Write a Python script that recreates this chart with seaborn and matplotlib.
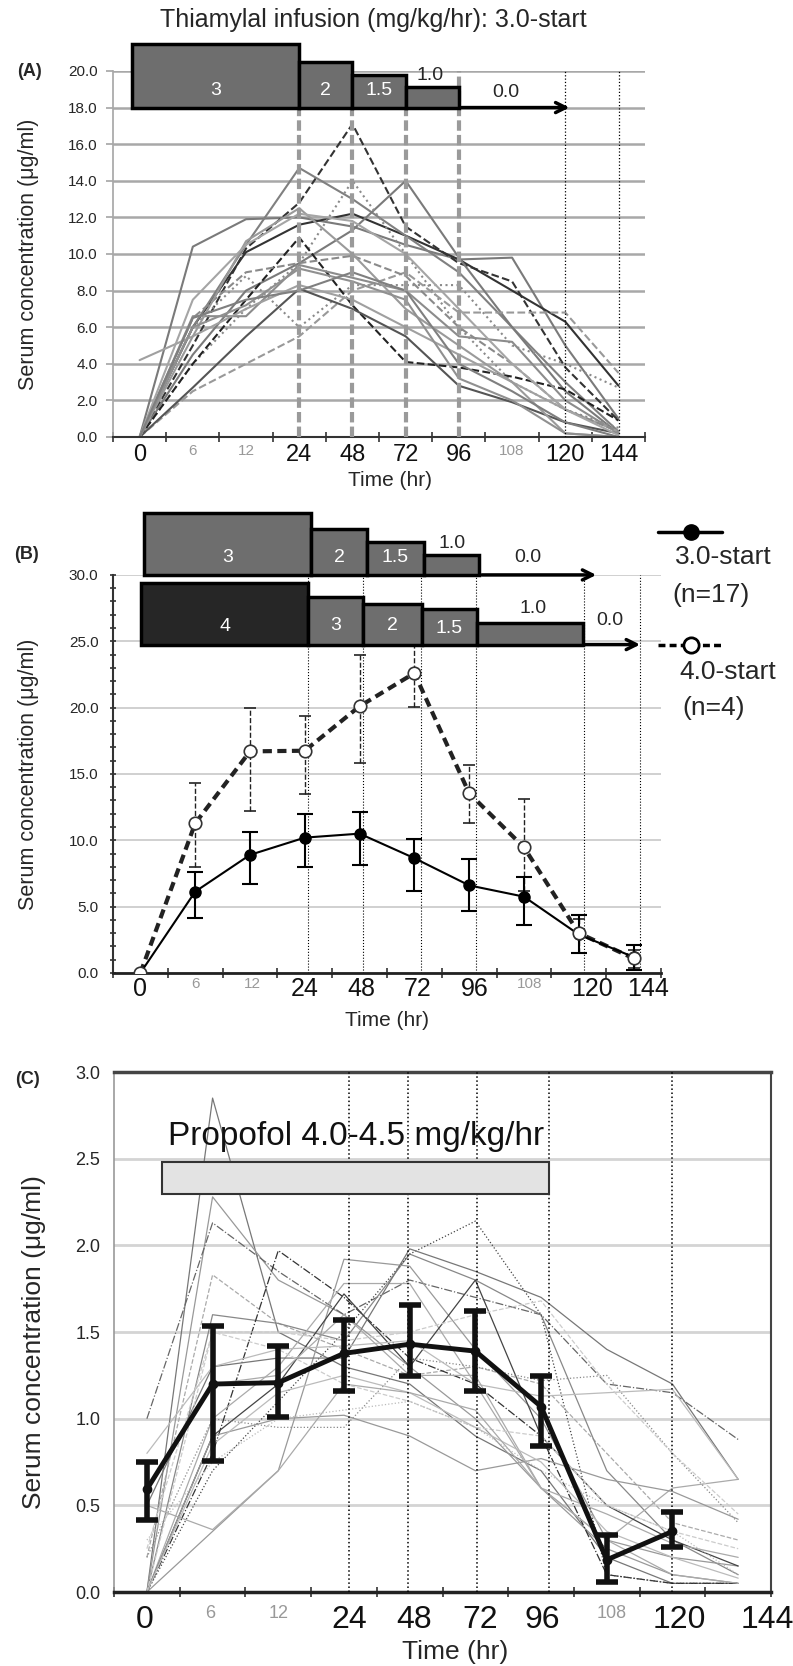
import numpy as np
import pandas as pd
import matplotlib
matplotlib.use('Agg')
import matplotlib.pyplot as plt
import seaborn as sns
from matplotlib.patches import Rectangle
from matplotlib.lines import Line2D

# x axis: sampling times, drawn as equally spaced categories
HOURS = ['0', '6', '12', '24', '48', '72', '96', '108', '120', '144']
MINOR_HOURS = {'6', '12', '108'}
POS = list(range(len(HOURS)))

# (A) thiamylal, individual patients (3.0-start)
A_LINES = [
    [0, 10.4, 11.9, 12.0, 11.5, 10.5, 9.7, 9.8, 5.0, 1.0],
    [0, 6.0, 10.1, 11.6, 12.2, 11.0, 9.7, 8.0, 6.3, 2.8],
    [0, 5.0, 10.3, 12.8, 17.1, 11.5, 9.5, 8.5, 3.8, 0.9],
    [0, 6.0, 10.5, 14.7, 13.0, 11.0, 9.0, 6.0, 3.0, 0.3],
    [0, 4.5, 8.0, 9.5, 11.3, 14.0, 9.8, 6.0, 2.5, 0.2],
    [0, 6.0, 8.8, 6.0, 8.3, 8.3, 8.3, 5.0, 4.0, 2.7],
    [0, 4.0, 7.0, 9.5, 14.0, 10.0, 6.0, 3.0, 1.5, 0.5],
    [0, 2.5, 4.0, 5.5, 8.0, 9.0, 6.8, 6.8, 6.8, 3.5],
    [0, 4.0, 7.5, 10.9, 7.2, 4.1, 3.8, 3.3, 2.6, 0.9],
    [0, 2.7, 5.5, 8.1, 7.0, 5.5, 2.8, 1.9, 0.8, 0.2],
    [0, 6.6, 6.6, 9.4, 8.7, 8.0, 5.5, 5.2, 2.0, 0.2],
    [4.2, 5.5, 7.0, 8.3, 7.5, 6.0, 4.5, 3.0, 1.5, 0.3],
    [0, 6.5, 9.0, 9.5, 9.9, 8.8, 6.0, 4.0, 1.5, 0.3],
    [0, 5.5, 10.7, 12.5, 10.0, 7.0, 5.0, 3.0, 0.2, 0.0],
    [0, 6.0, 7.2, 9.2, 8.5, 7.5, 3.2, 2.0, 0.2, 0.0],
    [0, 7.5, 10.5, 12.2, 11.8, 10.0, 7.0, 4.0, 1.5, 0.1],
    [0, 6.5, 7.5, 8.0, 9.0, 8.0, 4.0, 2.5, 0.8, 0.0],
]
A_STYLES = [
    ('#7a7a7a', '-'), ('#333333', '-'), ('#333333', '--'), ('#808080', '-'),
    ('#7a7a7a', '-'), ('#8a8a8a', ':'), ('#8a8a8a', ':'), ('#999999', '--'),
    ('#222222', '--'), ('#555555', '-'), ('#8c8c8c', '-'), ('#a0a0a0', '-'),
    ('#8a8a8a', '--'), ('#9a9a9a', '-'), ('#909090', '-'), ('#a5a5a5', '-'),
    ('#7f7f7f', '-'),
]

# (B) mean +/- SD
B30_MEAN = [0, 6.13, 8.9, 10.2, 10.5, 8.65, 6.6, 5.75, 2.9, 1.2]
B30_UP = [0, 7.63, 10.65, 12.0, 12.1, 10.1, 8.6, 7.26, 4.37, 2.1]
B30_LO = [0, 4.17, 6.7, 8.0, 8.14, 6.2, 4.7, 3.6, 1.5, 0.2]
B40_MEAN = [0, 11.28, 16.7, 16.75, 20.1, 22.6, 13.54, 9.47, 3.0, 1.1]
B40_UP = [0, 14.34, 19.97, 19.37, 24.0, 24.66, 15.67, 13.1, 4.1, 1.7]
B40_LO = [0, 7.97, 12.23, 13.47, 15.8, 20.07, 11.33, 6.2, 1.5, 0.4]

# (C) propofol, individual patients and mean +/- SD
C_LINES = [
    [0, 2.85, 1.5, 1.3, 1.2, 0.9, 0.7, 0.2, 0.05, 0.05],
    [0, 2.28, 1.8, 1.6, 1.3, 1.0, 0.6, 0.25, 0.1, 0.05],
    [1.0, 2.13, 1.85, 1.6, 1.8, 1.7, 1.6, 1.2, 1.15, 0.88],
    [0.2, 1.83, 1.55, 1.4, 1.25, 1.3, 1.2, 0.8, 0.4, 0.3],
    [0, 1.6, 1.55, 1.45, 1.95, 1.8, 1.6, 0.7, 0.3, 0.1],
    [0, 0.8, 1.97, 1.7, 1.35, 1.2, 0.9, 0.1, 0.05, 0.05],
    [0, 0.35, 0.7, 1.92, 1.88, 1.4, 1.0, 0.3, 0.2, 0.15],
    [0, 1.0, 1.3, 1.78, 1.78, 1.2, 0.6, 0.3, 0.6, 0.65],
    [0, 0.9, 1.2, 1.72, 1.3, 1.8, 0.9, 0.5, 0.3, 0.15],
    [0, 0.7, 1.1, 1.5, 1.95, 2.14, 1.6, 0.1, 0.05, 0.05],
    [0.5, 1.3, 1.35, 1.35, 1.98, 1.85, 1.7, 1.4, 1.2, 0.65],
    [0.2, 1.0, 0.95, 0.95, 1.35, 1.3, 1.22, 1.25, 0.8, 0.4],
    [0.8, 1.3, 1.4, 1.42, 1.45, 1.2, 1.13, 1.15, 1.17, 0.65],
    [0, 0.9, 1.0, 1.02, 0.9, 0.7, 0.77, 0.65, 0.58, 0.42],
    [0.6, 1.2, 1.25, 1.6, 1.25, 1.25, 0.6, 0.3, 0.1, 0.05],
    [0, 1.5, 1.4, 1.2, 1.1, 0.95, 0.9, 0.5, 0.35, 0.25],
    [0, 0.85, 1.15, 1.25, 1.15, 0.95, 0.75, 0.35, 0.2, 0.08],
    [0.5, 0.36, 0.7, 1.2, 1.15, 1.05, 0.6, 0.45, 0.28, 0.2],
    [0.3, 0.75, 1.0, 1.05, 1.1, 0.95, 0.7, 0.5, 0.35, 0.1],
    [0.25, 1.5, 1.5, 1.45, 1.5, 1.6, 1.68, 1.2, 0.8, 0.45],
]
C_COLORS = ['#777777', '#999999', '#666666', '#aaaaaa', '#888888', '#333333',
            '#999999', '#aaaaaa', '#444444', '#444444', '#777777', '#888888',
            '#bbbbbb', '#999999', '#aaaaaa', '#cccccc', '#bbbbbb', '#aaaaaa',
            '#bbbbbb', '#cccccc']
C_DASH = ['-', '-', '-.', '--', '-', '-.', '-', '-', '-', ':',
          '-', ':', '-', '-', '-', '--', '-', '-', ':', '--']
C_MEAN = [0.593, 1.2, 1.208, 1.377, 1.43, 1.39, 1.07, 0.186, 0.35]
C_UP = [0.753, 1.535, 1.42, 1.57, 1.656, 1.62, 1.248, 0.33, 0.459]
C_LO = [0.417, 0.757, 1.008, 1.16, 1.247, 1.16, 0.843, 0.06, 0.26]

sns.set_theme(style='white')
plt.rcParams['font.family'] = ['Liberation Sans', 'DejaVu Sans']

fig = plt.figure(figsize=(7.93, 16.66), dpi=100)
axA = fig.add_axes([0.1425, 0.7377, 0.671, 0.2197])
axB = fig.add_axes([0.1425, 0.4160, 0.691, 0.2389])
axC = fig.add_axes([0.1438, 0.0444, 0.8285, 0.3121])


def style_x(ax, label_pos, big, small, pad):
    ax.set_xlim(-0.5, 9.5)
    ax.set_xticks(label_pos)
    ax.set_xticklabels(HOURS)
    for lab, h in zip(ax.get_xticklabels(), HOURS):
        if h in MINOR_HOURS:
            lab.set_fontsize(small)
            lab.set_color('#999999')
        else:
            lab.set_fontsize(big)
            lab.set_color('#111111')
    ax.tick_params(axis='x', which='major', length=0, pad=pad)
    ax.set_xticks(np.arange(-0.5, 10, 1), minor=True)
    ax.tick_params(axis='x', which='minor', bottom=True, direction='inout',
                   length=7, width=1.2, color='#333333')


def box(ax, x0, x1, y0, y1, fc, label=None, size=14, ly=None):
    ax.add_patch(Rectangle((x0, y0), x1 - x0, y1 - y0, facecolor=fc,
                           edgecolor='black', lw=2.5, clip_on=False, zorder=6))
    if label:
        ax.text((x0 + x1) / 2, ly, label, color='white', fontsize=size,
                ha='center', va='center', zorder=7)


# ---------------- (A)
ax = axA
for vals, (col, ls) in zip(A_LINES, A_STYLES):
    sns.lineplot(x=POS, y=vals, ax=ax, color=col, linestyle=ls, lw=1.5, zorder=2)
ax.set_ylim(0, 20)
ax.set_yticks(np.arange(0, 21, 2))
ax.set_yticklabels([f'{v:.1f}' for v in np.arange(0, 21, 2)], fontsize=11)
ax.yaxis.grid(True, color='#a8a8a8', lw=1.8)
ax.set_axisbelow(True)
ax.tick_params(axis='y', length=5, color='#a8a8a8', pad=6, left=True)
for s in ['top', 'right']:
    ax.spines[s].set_visible(False)
ax.spines['left'].set_color('#a8a8a8')
ax.spines['bottom'].set_color('#333333')
ax.spines['bottom'].set_linewidth(1.5)
style_x(ax, POS, 17, 11, 5)
for p in [3, 4, 5]:
    ax.plot([p, p], [0, 18], color='#9a9a9a', lw=3, ls=(0, (2.5, 1)), zorder=3)
ax.plot([6, 6], [0, 20], color='#9a9a9a', lw=3, ls=(0, (2.5, 1)), zorder=3)
for p in [8, 9]:
    ax.plot([p, p], [0, 20], color='black', lw=0.9, ls=':', zorder=3)
box(ax, -0.14, 3, 18, 21.5, '#6e6e6e', '3', 14, 18.96)
box(ax, 3, 4, 18, 20.5, '#6e6e6e', '2', 14, 18.96)
box(ax, 4, 5, 18, 19.8, '#6e6e6e', '1.5', 14, 18.96)
box(ax, 5, 6, 18, 19.1, '#6e6e6e')
ax.text(5.46, 19.75, '1.0', fontsize=14, ha='center', va='center', zorder=7)
ax.text(6.88, 18.85, '0.0', fontsize=14, ha='center', va='center', zorder=7)
ax.annotate('', xy=(8.13, 18), xytext=(6, 18), annotation_clip=False,
            arrowprops=dict(arrowstyle='->', lw=2.5, color='black', mutation_scale=18),
            zorder=7)
ax.set_xlabel('')
ax.set_ylabel('')

# ---------------- (B)
ax = axB
for p in [3.05, 4.07, 5.12, 6.13, 8.1, 9.12]:
    ax.plot([p, p], [0, 30], color='black', lw=0.8, ls=':', zorder=2)
sns.lineplot(x=POS, y=B40_MEAN, ax=ax, color='#222222', lw=3, linestyle=(0, (2.2, 1.3)),
             zorder=3)
sns.lineplot(x=POS, y=B30_MEAN, ax=ax, color='black', lw=1.5, zorder=4)
e40 = ax.errorbar(POS[1:], B40_MEAN[1:],
                  yerr=[np.subtract(B40_MEAN, B40_LO)[1:], np.subtract(B40_UP, B40_MEAN)[1:]],
                  fmt='none', ecolor='#222222', elinewidth=1, capsize=4, capthick=1.2,
                  zorder=3)
for c in e40[2]:
    c.set_linestyle('--')
ax.errorbar(POS[1:], B30_MEAN[1:],
            yerr=[np.subtract(B30_MEAN, B30_LO)[1:], np.subtract(B30_UP, B30_MEAN)[1:]],
            fmt='none', ecolor='black', elinewidth=1.5, capsize=6, capthick=1.5, zorder=4)
ax.plot(POS, B30_MEAN, 'o', color='black', markersize=8, zorder=5)
ax.plot(POS, B40_MEAN, 'o', mfc='white', mec='#333333', mew=1.2, markersize=9, zorder=5)
ax.set_ylim(0, 30)
ax.set_yticks(np.arange(0, 31, 5))
ax.set_yticklabels([f'{v:.1f}' for v in np.arange(0, 31, 5)], fontsize=11)
ax.set_yticks(np.arange(0, 31, 1), minor=True)
ax.tick_params(axis='y', which='both', left=True, direction='inout', length=5,
               width=1.2, color='#333333', pad=8)
ax.yaxis.grid(True, color='#c8c8c8', lw=1.2)
ax.set_axisbelow(True)
for s in ['top', 'right']:
    ax.spines[s].set_visible(False)
ax.spines['left'].set_color('#333333')
ax.spines['left'].set_linewidth(1.5)
ax.spines['bottom'].set_color('#222222')
ax.spines['bottom'].set_linewidth(2)
style_x(ax, [0, 1.0, 2.05, 3.0, 4.03, 5.06, 6.1, 7.1, 8.24, 9.26], 18, 11, 3)
box(ax, 0.07, 3.12, 30, 34.7, '#6e6e6e', '3', 14, 31.35)
box(ax, 3.12, 4.13, 30, 33.5, '#6e6e6e', '2', 14, 31.35)
box(ax, 4.13, 5.17, 30, 32.5, '#6e6e6e', '1.5', 14, 31.35)
box(ax, 5.17, 6.18, 30, 31.5, '#6e6e6e')
ax.text(5.69, 32.4, '1.0', fontsize=14, ha='center', va='center')
ax.text(7.07, 31.3, '0.0', fontsize=14, ha='center', va='center')
ax.annotate('', xy=(8.37, 30), xytext=(6.18, 30), annotation_clip=False,
            arrowprops=dict(arrowstyle='->', lw=2.5, color='black', mutation_scale=18))
box(ax, 0.02, 3.06, 24.75, 29.4, '#262626', '4', 14, 26.1)
box(ax, 3.06, 4.07, 24.75, 28.3, '#6e6e6e', '3', 14, 26.2)
box(ax, 4.07, 5.13, 24.75, 27.8, '#6e6e6e', '2', 14, 26.2)
box(ax, 5.13, 6.15, 24.75, 27.4, '#6e6e6e', '1.5', 14, 26.0)
box(ax, 6.15, 8.07, 24.75, 26.4, '#6e6e6e')
ax.text(7.16, 27.5, '1.0', fontsize=14, ha='center', va='center')
ax.text(8.56, 26.6, '0.0', fontsize=14, ha='center', va='center')
ax.annotate('', xy=(9.17, 24.75), xytext=(8.07, 24.75), annotation_clip=False,
            arrowprops=dict(arrowstyle='->', lw=2.5, color='black', mutation_scale=18))
ax.set_xlabel('')
ax.set_ylabel('')

# legend for (B), drawn by hand to the right of the axes
fig.add_artist(Line2D([0.830, 0.910], [0.6807, 0.6807], color='black', lw=2.5,
                      transform=fig.transFigure))
fig.add_artist(Line2D([0.872], [0.6807], marker='o', color='black', markersize=11,
                      transform=fig.transFigure))
fig.add_artist(Line2D([0.830, 0.910], [0.6128, 0.6128], color='black', lw=2.5,
                      ls=(0, (2, 1.2)), transform=fig.transFigure))
fig.add_artist(Line2D([0.872], [0.6128], marker='o', mfc='white', mec='black', mew=2,
                      markersize=11, transform=fig.transFigure))
fig.text(0.851, 0.6657, '3.0-start', fontsize=19, ha='left', va='center')
fig.text(0.848, 0.6429, '(n=17)', fontsize=19, ha='left', va='center')
fig.text(0.857, 0.5966, '4.0-start', fontsize=19, ha='left', va='center')
fig.text(0.860, 0.5750, '(n=4)', fontsize=19, ha='left', va='center')

# ---------------- (C)
ax = axC
for vals, col, ls in zip(C_LINES, C_COLORS, C_DASH):
    sns.lineplot(x=POS, y=vals, ax=ax, color=col, linestyle=ls, lw=0.9, zorder=2)
for p in [3.07, 3.97, 5.02, 6.12, 8.0]:
    ax.plot([p, p], [0, 3], color='black', lw=1.1, ls=':', zorder=3)
sns.lineplot(x=POS[:len(C_MEAN)], y=C_MEAN, ax=ax, color='#111111', lw=3.5, zorder=5)
ax.errorbar(POS[:len(C_MEAN)], C_MEAN,
            yerr=[np.subtract(C_MEAN, C_LO), np.subtract(C_UP, C_MEAN)],
            fmt='o', color='#111111', markersize=6, elinewidth=4, capsize=8,
            capthick=4, zorder=6)
ax.add_patch(Rectangle((0.23, 2.295), 6.12 - 0.23, 2.48 - 2.295, facecolor='#e3e3e3',
                       edgecolor='#333333', lw=1.5, zorder=4))
ax.text(3.18, 2.63, 'Propofol 4.0-4.5 mg/kg/hr', fontsize=24, ha='center',
        va='center', color='#111111', zorder=7)
ax.set_ylim(0, 3)
ax.set_yticks(np.arange(0, 3.01, 0.5))
ax.set_yticklabels([f'{v:.1f}' for v in np.arange(0, 3.01, 0.5)], fontsize=13)
ax.tick_params(axis='y', length=0, pad=10)
ax.yaxis.grid(True, color='#d4d4d4', lw=2)
ax.set_axisbelow(True)
ax.spines['left'].set_color('#999999')
ax.spines['left'].set_linewidth(1.2)
ax.spines['top'].set_color('#444444')
ax.spines['top'].set_linewidth(2.5)
ax.spines['right'].set_color('#444444')
ax.spines['right'].set_linewidth(1.5)
ax.spines['bottom'].set_color('#222222')
ax.spines['bottom'].set_linewidth(2.5)
style_x(ax, [-0.04, 0.97, 2.0, 3.08, 4.07, 5.07, 6.02, 7.08, 8.11, 9.45], 23, 13, 9)
ax.set_xlabel('')
ax.set_ylabel('')

# figure texts
fig.text(0.471, 0.988, 'Thiamylal infusion (mg/kg/hr): 3.0-start', fontsize=18,
         ha='center', va='center')
fig.text(0.037, 0.957, '(A)', fontsize=13, fontweight='bold', ha='center', va='center')
fig.text(0.034, 0.667, '(B)', fontsize=13, fontweight='bold', ha='center', va='center')
fig.text(0.035, 0.352, '(C)', fontsize=13, fontweight='bold', ha='center', va='center')
ylab = 'Serum concentration (\u03bcg/ml)'
fig.text(0.036, 0.8475, ylab, fontsize=15.5, rotation=90, ha='center', va='center')
fig.text(0.036, 0.5354, ylab, fontsize=15.5, rotation=90, ha='center', va='center')
fig.text(0.043, 0.1945, ylab, fontsize=19, rotation=90, ha='center', va='center')
fig.text(0.492, 0.7113, 'Time (hr)', fontsize=15, ha='center', va='center')
fig.text(0.488, 0.3877, 'Time (hr)', fontsize=15, ha='center', va='center')
fig.text(0.574, 0.0084, 'Time (hr)', fontsize=19, ha='center', va='center')

fig.savefig('out.png', dpi=100, facecolor='white')
